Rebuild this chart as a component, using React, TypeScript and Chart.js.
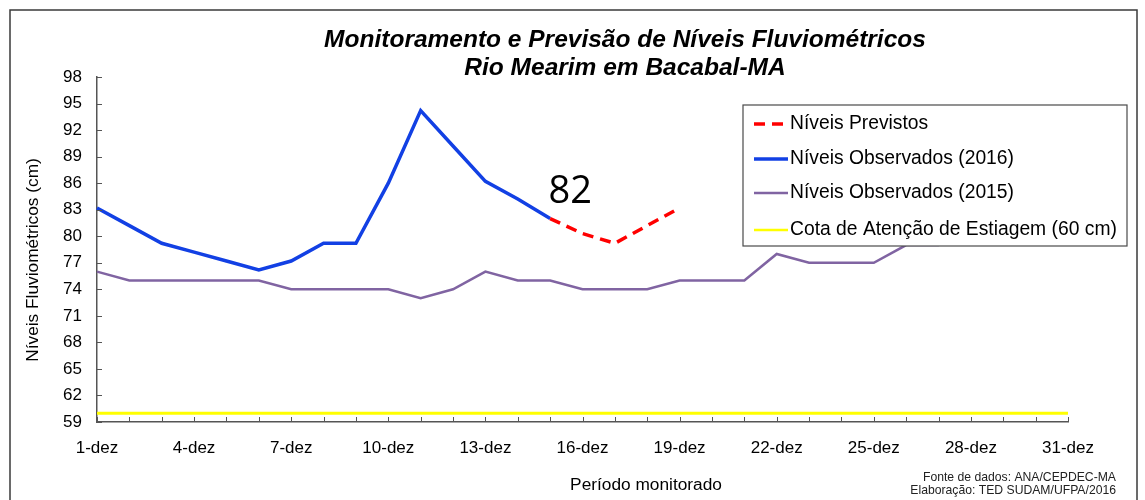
import React, { useEffect, useRef } from "react";
import { Chart, registerables } from "chart.js";

Chart.register(...registerables);

const days: string[] = Array.from({ length: 31 }, (_, i) => `${i + 1}-dez`);

const previstos: (number | null)[] = [
  null, null, null, null, null, null, null, null, null, null, null, null, null, null,
  82, 80.3, 79.2, 81.2, 83.2,
  null, null, null, null, null, null, null, null, null, null, null, null,
];

const observados2016: (number | null)[] = [
  83.2, 81.2, 79.2, 78.2, 77.2, 76.2, 77.2, 79.2, 79.2, 86, 94.2, 90.2, 86.2, 84.2, 82,
  null, null, null, null, null, null, null, null, null, null, null, null, null, null, null, null,
];

const observados2015: number[] = [
  76, 75, 75, 75, 75, 75, 74, 74, 74, 74, 73, 74, 76, 75, 75, 74, 74, 74, 75, 75, 75,
  78, 77, 77, 77, 79, 79, 80, 82, 84, 87,
];

const cotaAtencao: number[] = Array.from({ length: 31 }, () => 60);

const yMin = 59;
const yMax = 98;
const yStep = 3;

const titleLines = [
  "Monitoramento e Previsão de Níveis Fluviométricos",
  "Rio Mearim em Bacabal-MA",
];
const yTitle = "Níveis Fluviométricos (cm)";
const xTitle = "Período monitorado";
const footLines = ["Fonte de dados: ANA/CEPDEC-MA", "Elaboração: TED SUDAM/UFPA/2016"];
const annotIndex = 14;
const annotText = "82";

const FONT = "'Liberation Sans', Arial, sans-serif";

export default function App() {
  const ref = useRef<HTMLCanvasElement | null>(null);

  useEffect(() => {
    if (!ref.current) return;

    const decor = {
      id: "decor",
      beforeDraw(chart: any) {
        const ctx = chart.ctx;
        ctx.save();
        ctx.fillStyle = "#ffffff";
        ctx.fillRect(0, 0, chart.width, chart.height);
        ctx.strokeStyle = "#3a3a3a";
        ctx.lineWidth = 1.5;
        ctx.strokeRect(10, 10, 1127, 520);
        ctx.restore();
      },
      afterDraw(chart: any) {
        const ctx = chart.ctx;
        const xs = chart.scales.x;
        const ys = chart.scales.y;
        const area = chart.chartArea;
        ctx.save();
        // inward ticks
        ctx.strokeStyle = "#555555";
        ctx.lineWidth = 1;
        ctx.beginPath();
        for (let i = 0; i < xs.ticks.length; i++) {
          const px = Math.round(xs.getPixelForTick(i)) + 0.5;
          ctx.moveTo(px, area.bottom);
          ctx.lineTo(px, area.bottom - 5);
        }
        for (let i = 0; i < ys.ticks.length; i++) {
          const py = Math.round(ys.getPixelForTick(i)) + 0.5;
          ctx.moveTo(area.left, py);
          ctx.lineTo(area.left + 5, py);
        }
        ctx.stroke();

        // title
        ctx.fillStyle = "#000000";
        ctx.textAlign = "center";
        ctx.textBaseline = "middle";
        ctx.font = `italic bold 24.5px ${FONT}`;
        ctx.fillText(titleLines[0], 625, 40);
        ctx.fillText(titleLines[1], 625, 68);

        // y title
        ctx.font = `17.3px ${FONT}`;
        ctx.save();
        ctx.translate(33, 260);
        ctx.rotate(-Math.PI / 2);
        ctx.fillText(yTitle, 0, 0);
        ctx.restore();

        // x title
        ctx.font = `17.3px ${FONT}`;
        ctx.fillText(xTitle, 646, 485);

        // footnote
        ctx.font = `12.2px ${FONT}`;
        ctx.textAlign = "right";
        ctx.fillStyle = "#222222";
        ctx.fillText(footLines[0], 1116, 478);
        ctx.fillText(footLines[1], 1116, 491);

        // annotation
        const ax = xs.getPixelForValue(annotIndex);
        const ay = ys.getPixelForValue(observados2016[annotIndex] as number);
        ctx.textAlign = "center";
        ctx.fillStyle = "#000000";
        ctx.font = `38px 'Open Sans', ${FONT}`;
        ctx.fillText(annotText, ax + 20, ay - 26);

        // legend
        const lx = 743, ly = 105, lw = 384, lh = 141;
        ctx.fillStyle = "#ffffff";
        ctx.fillRect(lx, ly, lw, lh);
        ctx.strokeStyle = "#4a4a4a";
        ctx.lineWidth = 1.2;
        ctx.strokeRect(lx, ly, lw, lh);
        const rows = [124, 159, 193, 230];
        chart.data.datasets.forEach((ds: any, i: number) => {
          const y = rows[i];
          ctx.strokeStyle = ds.borderColor;
          ctx.lineWidth = ds.legendWidth;
          ctx.setLineDash(ds.borderDash || []);
          ctx.beginPath();
          ctx.moveTo(754, y);
          ctx.lineTo(788, y);
          ctx.stroke();
          ctx.setLineDash([]);
          ctx.fillStyle = "#000000";
          ctx.textAlign = "left";
          ctx.font = `19.3px ${FONT}`;
          ctx.fillText(ds.label, 790, y);
        });
        ctx.restore();
      },
    };

    const chart = new Chart(ref.current, {
      type: "line",
      data: {
        labels: days,
        datasets: [
          {
            label: "Níveis Previstos",
            data: previstos,
            borderColor: "#FF0000",
            borderWidth: 3.5,
            borderDash: [11, 7],
            pointRadius: 0,
            spanGaps: false,
            legendWidth: 3.5,
          } as any,
          {
            label: "Níveis Observados (2016)",
            data: observados2016,
            borderColor: "#1240E4",
            borderWidth: 3.5,
            pointRadius: 0,
            legendWidth: 3.5,
          } as any,
          {
            label: "Níveis Observados (2015)",
            data: observados2015,
            borderColor: "#8064A2",
            borderWidth: 2.5,
            pointRadius: 0,
            legendWidth: 2.5,
          } as any,
          {
            label: "Cota de Atenção de Estiagem (60 cm)",
            data: cotaAtencao,
            borderColor: "#FFFF00",
            borderWidth: 3,
            pointRadius: 0,
            legendWidth: 2.5,
          } as any,
        ],
      },
      options: {
        animation: false,
        responsive: false,
        maintainAspectRatio: false,
        events: [],
        layout: { padding: { left: 0, right: 77, top: 77, bottom: 0 } },
        plugins: {
          legend: { display: false },
          title: { display: false },
          tooltip: { enabled: false },
        },
        scales: {
          x: {
            type: "category",
            offset: false,
            grid: { drawOnChartArea: false, drawTicks: false },
            border: { display: true, color: "#555555", width: 1.5 },
            ticks: {
              autoSkip: false,
              maxRotation: 0,
              minRotation: 0,
              padding: 16,
              color: "#000000",
              font: { family: FONT, size: 17 },
              callback: (_v: any, i: number) => (i % 3 === 0 ? days[i] : ""),
            },
            afterFit: (s: any) => {
              s.height = 78;
            },
          },
          y: {
            min: yMin,
            max: yMax,
            grid: { drawOnChartArea: false, drawTicks: false },
            border: { display: true, color: "#555555", width: 1.5 },
            ticks: {
              stepSize: yStep,
              padding: 15,
              color: "#000000",
              font: { family: FONT, size: 17 },
            },
            afterFit: (s: any) => {
              s.width = 97;
            },
          },
        },
      } as any,
      plugins: [decor],
    });

    return () => chart.destroy();
  }, []);

  return (
    <div style={{ position: "fixed", left: 0, top: 0, width: 1145, height: 500, background: "#fff" }}>
      <canvas ref={ref} width={1145} height={500} style={{ width: 1145, height: 500, display: "block" }} />
    </div>
  );
}
